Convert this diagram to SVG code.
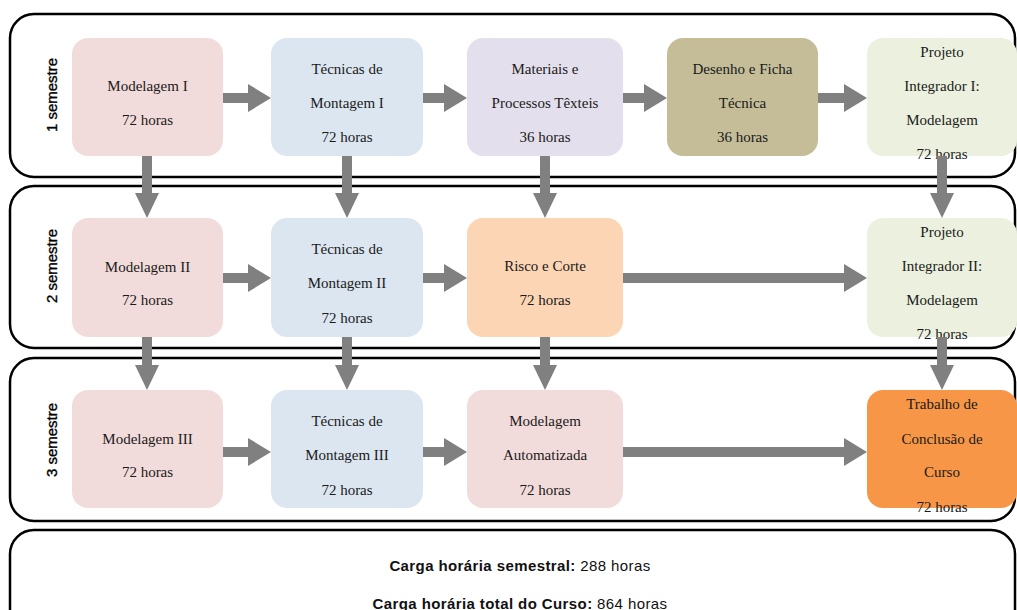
<svg xmlns="http://www.w3.org/2000/svg" width="1017" height="610" viewBox="0 0 1017 610">
  <style>
    .sem { fill: #ffffff; stroke: #000000; stroke-width: 2.5; }
    .node rect { stroke: none; }
    .node text { font-family: "Liberation Serif", "Times New Roman", serif; font-size: 15px; fill: #1a1a1a; text-anchor: middle; }
    .lbl { font-family: "Liberation Sans", Arial, sans-serif; font-size: 15px; fill: #000000; stroke: #000000; stroke-width: 0.35; text-anchor: middle; }
    .arr { fill: #808080; stroke: none; }
    .foot { font-family: "Liberation Sans", Arial, sans-serif; font-size: 15px; letter-spacing: 0.4px; fill: #111111; text-anchor: middle; }
    .pink { fill: #f2dcdb; }
    .blue { fill: #dce6f1; }
    .lilac { fill: #e4dfec; }
    .khaki { fill: #c4bd97; }
    .green { fill: #ebf1de; }
    .peach { fill: #fcd5b4; }
    .orange { fill: #f79646; }
  </style>

  <!-- semester bands -->
  <g id="bands">
    <rect class="sem" x="10" y="14" width="1005" height="163" rx="24"/>
    <rect class="sem" x="10" y="186" width="1005" height="162" rx="24"/>
    <rect class="sem" x="10" y="358" width="1005" height="163" rx="24"/>
    <rect class="sem" x="10" y="530" width="1005" height="110" rx="24"/>
  </g>

  <!-- semester labels -->
  <g id="labels">
    <text class="lbl" transform="translate(57,95) rotate(-90)">1 semestre</text>
    <text class="lbl" transform="translate(57,266) rotate(-90)">2 semestre</text>
    <text class="lbl" transform="translate(57,440) rotate(-90)">3 semestre</text>
  </g>

  <!-- 1st semester -->
  <g id="modelagem1" class="node">
    <rect class="pink" x="72" y="38" width="151" height="118" rx="16"/>
    <text x="147.5" y="91">Modelagem I</text>
    <text x="147.5" y="125">72 horas</text>
  </g>
  <g id="montagem1" class="node">
    <rect class="blue" x="271" y="38" width="152" height="118" rx="16"/>
    <text x="347" y="74">Técnicas de</text>
    <text x="347" y="108">Montagem I</text>
    <text x="347" y="142">72 horas</text>
  </g>
  <g id="materiais" class="node">
    <rect class="lilac" x="467" y="38" width="156" height="118" rx="16"/>
    <text x="545" y="74">Materiais e</text>
    <text x="545" y="108">Processos Têxteis</text>
    <text x="545" y="142">36 horas</text>
  </g>
  <g id="desenho" class="node">
    <rect class="khaki" x="667" y="38" width="151" height="118" rx="16"/>
    <text x="742.5" y="74">Desenho e Ficha</text>
    <text x="742.5" y="108">Técnica</text>
    <text x="742.5" y="142">36 horas</text>
  </g>
  <g id="integrador1" class="node">
    <rect class="green" x="867" y="38" width="150" height="118" rx="16"/>
    <text x="942" y="57">Projeto</text>
    <text x="942" y="91">Integrador I:</text>
    <text x="942" y="125">Modelagem</text>
    <text x="942" y="159">72 horas</text>
  </g>

  <!-- 2nd semester -->
  <g id="modelagem2" class="node">
    <rect class="pink" x="72" y="218" width="151" height="119" rx="16"/>
    <text x="147.5" y="272">Modelagem II</text>
    <text x="147.5" y="305">72 horas</text>
  </g>
  <g id="montagem2" class="node">
    <rect class="blue" x="271" y="218" width="152" height="119" rx="16"/>
    <text x="347" y="254">Técnicas de</text>
    <text x="347" y="288">Montagem II</text>
    <text x="347" y="323">72 horas</text>
  </g>
  <g id="risco" class="node">
    <rect class="peach" x="467" y="218" width="156" height="119" rx="16"/>
    <text x="545" y="271">Risco e Corte</text>
    <text x="545" y="305">72 horas</text>
  </g>
  <g id="integrador2" class="node">
    <rect class="green" x="867" y="218" width="150" height="119" rx="16"/>
    <text x="942" y="237">Projeto</text>
    <text x="942" y="271">Integrador II:</text>
    <text x="942" y="305">Modelagem</text>
    <text x="942" y="339">72 horas</text>
  </g>

  <!-- 3rd semester -->
  <g id="modelagem3" class="node">
    <rect class="pink" x="72" y="390" width="151" height="118" rx="16"/>
    <text x="147.5" y="444">Modelagem III</text>
    <text x="147.5" y="477">72 horas</text>
  </g>
  <g id="montagem3" class="node">
    <rect class="blue" x="271" y="390" width="152" height="118" rx="16"/>
    <text x="347" y="426">Técnicas de</text>
    <text x="347" y="460">Montagem III</text>
    <text x="347" y="495">72 horas</text>
  </g>
  <g id="automatizada" class="node">
    <rect class="pink" x="467" y="390" width="156" height="118" rx="16"/>
    <text x="545" y="426">Modelagem</text>
    <text x="545" y="460">Automatizada</text>
    <text x="545" y="495">72 horas</text>
  </g>
  <g id="tcc" class="node">
    <rect class="orange" x="867" y="390" width="150" height="118" rx="16"/>
    <text x="942" y="409">Trabalho de</text>
    <text x="942" y="444">Conclusão de</text>
    <text x="942" y="477">Curso</text>
    <text x="942" y="512">72 horas</text>
  </g>

  <!-- block arrows between courses -->
  <g id="connectors">
    <!-- row 1 -->
    <polygon class="arr" points="223,93 248,93 248,84 271,98 248,112 248,103 223,103"/>
    <polygon class="arr" points="423,93 444,93 444,84 467,98 444,112 444,103 423,103"/>
    <polygon class="arr" points="623,93 644,93 644,84 667,98 644,112 644,103 623,103"/>
    <polygon class="arr" points="818,93 844,93 844,84 867,98 844,112 844,103 818,103"/>
    <!-- row 2 -->
    <polygon class="arr" points="223,273 248,273 248,264 271,278 248,292 248,283 223,283"/>
    <polygon class="arr" points="423,273 444,273 444,264 467,278 444,292 444,283 423,283"/>
    <polygon class="arr" points="623,273 844,273 844,264 867,278 844,292 844,283 623,283"/>
    <!-- row 3 -->
    <polygon class="arr" points="223,447 248,447 248,438 271,452 248,466 248,457 223,457"/>
    <polygon class="arr" points="423,447 444,447 444,438 467,452 444,466 444,457 423,457"/>
    <polygon class="arr" points="623,447 844,447 844,438 867,452 844,466 844,457 623,457"/>
    <!-- semester 1 to 2 -->
    <polygon class="arr" points="142,156 152,156 152,193 159,193 147,218 135,193 142,193"/>
    <polygon class="arr" points="342,156 352,156 352,193 359,193 347,218 335,193 342,193"/>
    <polygon class="arr" points="540,156 550,156 550,193 557,193 545,218 533,193 540,193"/>
    <polygon class="arr" points="937,156 947,156 947,193 954,193 942,218 930,193 937,193"/>
    <!-- semester 2 to 3 -->
    <polygon class="arr" points="142,337 152,337 152,365 159,365 147,390 135,365 142,365"/>
    <polygon class="arr" points="342,337 352,337 352,365 359,365 347,390 335,365 342,365"/>
    <polygon class="arr" points="540,337 550,337 550,365 557,365 545,390 533,365 540,365"/>
    <polygon class="arr" points="937,337 947,337 947,365 954,365 942,390 930,365 937,365"/>
  </g>

  <!-- workload summary -->
  <g id="summary">
    <text class="foot" x="520" y="571"><tspan font-weight="bold">Carga horária semestral:</tspan> 288 horas</text>
    <text class="foot" x="520" y="609"><tspan font-weight="bold">Carga horária total do Curso:</tspan> 864 horas</text>
  </g>
</svg>
